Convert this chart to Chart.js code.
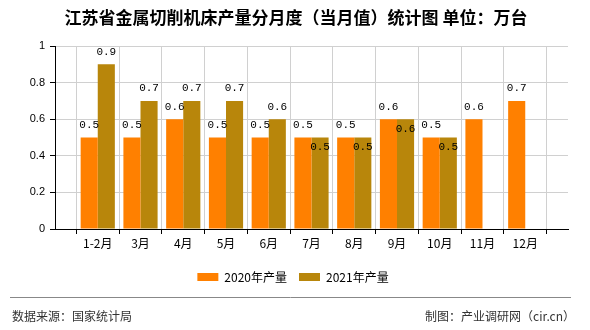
<!DOCTYPE html>
<html>
<head>
<meta charset="utf-8">
<script src="https://cdn.jsdelivr.net/npm/chart.js@4"></script>
<style>
  html, body { margin: 0; padding: 0; background: #fff; }
  #chart { display: block; }
</style>
</head>
<body>
<canvas id="chart" width="590" height="330"></canvas>
<script>
const MONTHS = ["1-2月", "3月", "4月", "5月", "6月", "7月", "8月", "9月", "10月", "11月", "12月"];
const OUTPUT_2020 = [0.5, 0.5, 0.6, 0.5, 0.5, 0.5, 0.5, 0.6, 0.5, 0.6, 0.7];
const OUTPUT_2021 = [0.9, 0.7, 0.7, 0.7, 0.6, 0.5, 0.5, 0.6, 0.5, null, null];
const Y_TICKS = [0, 0.2, 0.4, 0.6, 0.8, 1];

const TITLE = "江苏省金属切削机床产量分月度（当月值）统计图 单位：万台";
const SOURCE = "数据来源：国家统计局";
const MAKER = "制图：产业调研网（cir.cn）";

const COLOR_2020 = "#ff8000";
const COLOR_2021 = "#b8860b";
const GRID = "#d0d0d0";
const CJK = '"Noto Sans CJK SC", "Noto Sans", sans-serif';

// empty slot at each end so the axis runs one full category past the first/last month
const labels = ["", ...MONTHS, ""];
const pad = (arr) => [null, ...arr, null];

const valueLabels = {
  id: "valueLabels",
  afterDatasetsDraw(chart) {
    const { ctx } = chart;
    const a = chart.getDatasetMeta(0);
    const b = chart.getDatasetMeta(1);
    ctx.save();
    ctx.font = '11px "Liberation Mono", monospace';
    ctx.fillStyle = "#000";
    ctx.textAlign = "center";
    a.data.forEach((el, i) => {
      const v = chart.data.datasets[0].data[i];
      if (v == null) return;
      ctx.textBaseline = "bottom";
      ctx.fillText(String(v), el.x, el.y - 7);
    });
    b.data.forEach((el, i) => {
      const v = chart.data.datasets[1].data[i];
      if (v == null) return;
      const other = chart.data.datasets[0].data[i];
      if (other === v) {
        // same height as the neighbour: label goes inside the bar top
        ctx.textBaseline = "top";
        ctx.fillText(String(v), el.x, el.y + 4);
      } else {
        ctx.textBaseline = "bottom";
        ctx.fillText(String(v), el.x, el.y - 7);
      }
    });
    ctx.restore();
  },
};

const frameText = {
  id: "frameText",
  afterLayout(chart) {
    // nudge the legend a little right, as in the reference
    chart.legend.left += 9;
    chart.legend.right += 9;
  },
  afterDraw(chart) {
    const { ctx } = chart;
    ctx.save();
    ctx.fillStyle = "#000";
    ctx.font = "bold 17px " + CJK;
    ctx.textAlign = "center";
    ctx.textBaseline = "middle";
    ctx.fillText(TITLE, 296, 18);

    ctx.strokeStyle = "#888";
    ctx.lineWidth = 1;
    ctx.beginPath();
    ctx.moveTo(10, 297.5);
    ctx.lineTo(571, 297.5);
    ctx.stroke();

    ctx.fillStyle = "#333";
    ctx.font = "12px " + CJK;
    ctx.textAlign = "left";
    ctx.fillText(SOURCE, 12, 316);
    ctx.textAlign = "right";
    ctx.fillText(MAKER, 575, 316);
    ctx.restore();
  },
};

new Chart(document.getElementById("chart"), {
  type: "bar",
  data: {
    labels,
    datasets: [
      {
        label: "2020年产量",
        data: pad(OUTPUT_2020),
        backgroundColor: COLOR_2020,
        borderColor: COLOR_2020,
        borderWidth: 0,
        inflateAmount: 0,
        barPercentage: 1,
        categoryPercentage: 0.8,
      },
      {
        label: "2021年产量",
        data: pad(OUTPUT_2021),
        backgroundColor: COLOR_2021,
        borderColor: COLOR_2021,
        borderWidth: 0,
        inflateAmount: 0,
        barPercentage: 1,
        categoryPercentage: 0.8,
      },
    ],
  },
  options: {
    responsive: false,
    animation: false,
    devicePixelRatio: 1,
    layout: { padding: { top: 46, left: 0, right: 22, bottom: 37 } },
    plugins: {
      title: { display: false },
      tooltip: { enabled: false },
      legend: {
        position: "bottom",
        labels: {
          boxWidth: 21,
          boxHeight: 8,
          padding: 12,
          color: "#000",
          font: { size: 12, family: CJK },
        },
      },
    },
    scales: {
      x: {
        offset: false,
        afterFit: (s) => { s.height = 30; },
        grid: {
          color: (c) => (c.index === 0 ? "rgba(0,0,0,0)" : GRID),
          tickColor: "#000",
          tickLength: 5,
        },
        border: { color: "#000", width: 1 },
        ticks: {
          autoSkip: false,
          maxRotation: 0,
          padding: 2,
          color: "#000",
          font: { size: 12, family: CJK },
        },
      },
      y: {
        min: 0,
        max: 1,
        afterFit: (s) => { s.width = 55; },
        afterBuildTicks: (s) => { s.ticks = Y_TICKS.map((v) => ({ value: v })); },
        grid: {
          color: (c) => (c.index === 0 ? "rgba(0,0,0,0)" : GRID),
          tickColor: "#000",
          tickLength: 5,
        },
        border: { color: "#000", width: 1 },
        ticks: {
          padding: 5,
          color: "#000",
          font: { size: 11, family: '"Liberation Sans", sans-serif' },
          callback: (v) => String(+v.toFixed(1)),
        },
      },
    },
  },
  plugins: [valueLabels, frameText],
});
</script>
</body>
</html>
